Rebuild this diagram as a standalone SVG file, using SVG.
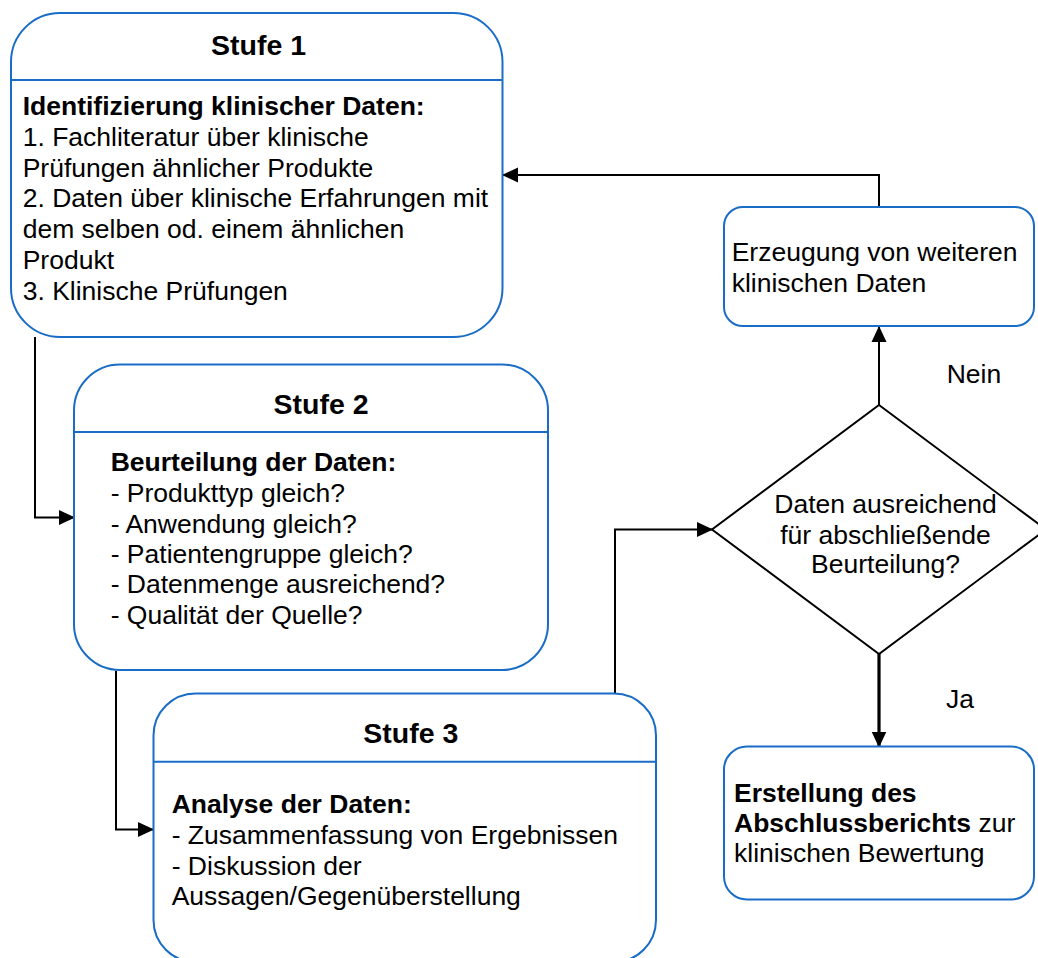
<svg xmlns="http://www.w3.org/2000/svg" width="1038" height="958" viewBox="0 0 1038 958">
  <style>
    .box { fill: #ffffff; stroke: #1a6dc6; stroke-width: 2; }
    .div { stroke: #1a6dc6; stroke-width: 2; fill: none; }
    .dec { fill: #ffffff; stroke: #000000; stroke-width: 2; }
    .t { font-family: "Liberation Sans", Arial, Helvetica, sans-serif; font-size: 26.5px; fill: #000000; }
    .b { font-weight: bold; }
    .title { font-family: "Liberation Sans", Arial, Helvetica, sans-serif; font-size: 28.5px; font-weight: bold; fill: #000000; text-anchor: middle; }
    .mid { text-anchor: middle; }
    .edge { fill: none; stroke: #000000; stroke-width: 2; }
    .edge-thick { fill: none; stroke: #000000; stroke-width: 3.2; }
  </style>
  <defs>
    <marker id="arrow" viewBox="0 0 16 16" markerUnits="userSpaceOnUse" markerWidth="16" markerHeight="16" refX="15" refY="8" orient="auto">
      <path d="M0,0.5 L16,8 L0,15.5 z" fill="#000000"/>
    </marker>
  </defs>

  <rect width="1038" height="958" fill="#ffffff"/>

  <!-- connectors -->
  <g id="connectors">
    <path class="edge" d="M879,207 V175 H503" marker-end="url(#arrow)"/>
    <path class="edge" d="M35,337 V517.5 H74" marker-end="url(#arrow)"/>
    <path class="edge" d="M116,671 V829.5 H153" marker-end="url(#arrow)"/>
    <path class="edge" d="M615,694 V529.5 H712" marker-end="url(#arrow)"/>
    <path class="edge" d="M879,405 V327" marker-end="url(#arrow)"/>
    <path class="edge-thick" d="M879,654 V746.5" marker-end="url(#arrow)"/>
  </g>

  <!-- Stufe 1 -->
  <g id="stufe1">
    <rect class="box" x="11" y="13" width="491.5" height="324" rx="49" ry="49"/>
    <line class="div" x1="11" y1="80" x2="502.5" y2="80"/>
    <text class="title" x="258.5" y="55">Stufe 1</text>
    <text class="t b" x="22.7" y="115">Identifizierung klinischer Daten:</text>
    <text class="t" x="22.7" y="146">1. Fachliteratur über klinische</text>
    <text class="t" x="22.7" y="176.7">Prüfungen ähnlicher Produkte</text>
    <text class="t" x="22.7" y="207.3">2. Daten über klinische Erfahrungen mit</text>
    <text class="t" x="22.7" y="238">dem selben od. einem ähnlichen</text>
    <text class="t" x="22.7" y="269">Produkt</text>
    <text class="t" x="22.7" y="300">3. Klinische Prüfungen</text>
  </g>

  <!-- Stufe 2 -->
  <g id="stufe2">
    <rect class="box" x="74" y="364.5" width="474" height="305.5" rx="46" ry="46"/>
    <line class="div" x1="74" y1="432" x2="548" y2="432"/>
    <text class="title" x="321" y="414">Stufe 2</text>
    <text class="t b" x="110.7" y="471">Beurteilung der Daten:</text>
    <text class="t" x="110.7" y="501.7">- Produkttyp gleich?</text>
    <text class="t" x="110.7" y="532.5">- Anwendung gleich?</text>
    <text class="t" x="110.7" y="562.9">- Patientengruppe gleich?</text>
    <text class="t" x="110.7" y="593.4">- Datenmenge ausreichend?</text>
    <text class="t" x="110.7" y="623.6">- Qualität der Quelle?</text>
  </g>

  <!-- Stufe 3 -->
  <g id="stufe3">
    <rect class="box" x="153.5" y="693.5" width="502.5" height="268.5" rx="42" ry="42"/>
    <line class="div" x1="153.5" y1="761.7" x2="656" y2="761.7"/>
    <text class="title" x="410.8" y="742.7">Stufe 3</text>
    <text class="t b" x="171.7" y="813.3">Analyse der Daten:</text>
    <text class="t" x="171.7" y="844">- Zusammenfassung von Ergebnissen</text>
    <text class="t" x="171.7" y="875">- Diskussion der</text>
    <text class="t" x="171.7" y="905">Aussagen/Gegenüberstellung</text>
  </g>

  <!-- additional data generation -->
  <g id="erzeugung">
    <rect class="box" x="724" y="207" width="310" height="119" rx="19" ry="19"/>
    <text class="t" x="731.7" y="261">Erzeugung von weiteren</text>
    <text class="t" x="731.7" y="291.7">klinischen Daten</text>
  </g>

  <!-- decision -->
  <g id="entscheidung">
    <polygon class="dec" points="879,405 1046,529.5 879,654 712,529.5"/>
    <text class="t mid" x="885.5" y="513.3">Daten ausreichend</text>
    <text class="t mid" x="885.5" y="544">für abschließende</text>
    <text class="t mid" x="885.5" y="573.3">Beurteilung?</text>
  </g>

  <!-- final report -->
  <g id="erstellung">
    <rect class="box" x="724" y="746.5" width="310" height="153" rx="23" ry="23"/>
    <text class="t b" x="734" y="801.7">Erstellung des</text>
    <text class="t" x="734" y="831.5"><tspan class="b">Abschlussberichts</tspan> zur</text>
    <text class="t" x="734" y="861.7">klinischen Bewertung</text>
  </g>

  <!-- branch labels -->
  <g id="labels">
    <text class="t" x="946.7" y="383.3">Nein</text>
    <text class="t" x="946" y="708.3">Ja</text>
  </g>
</svg>
